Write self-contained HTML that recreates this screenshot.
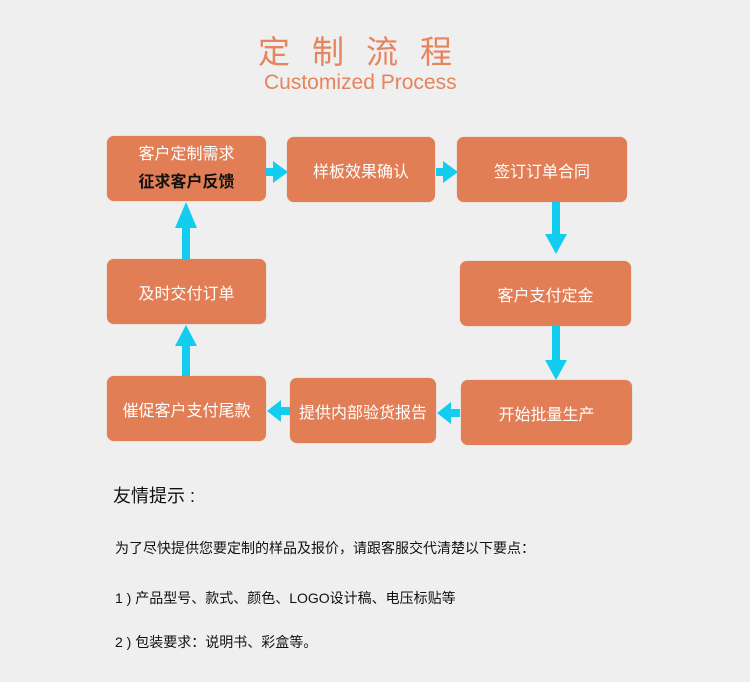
<!DOCTYPE html>
<html><head><meta charset="utf-8"><style>
body{margin:0;width:750px;height:682px;background:#efefef;position:relative;overflow:hidden;font-family:"Liberation Sans","Noto Sans CJK SC",sans-serif}
.t{position:absolute;white-space:nowrap}
.b{position:absolute;background:#e27e55;border-radius:7px;color:#fff;font-size:16px;display:flex;align-items:center;justify-content:center;flex-direction:column;box-shadow:0 0 1px #d8a08a}
</style></head><body>
<div class="t" style="left:258px;top:27px;font-size:32px;color:#e5845d;letter-spacing:22px">定制流程</div>
<div class="t" style="left:264px;top:71px;font-size:21px;color:#e5845d">Customized Process</div>

<div class="b" style="left:107px;top:136px;width:159px;height:65px;line-height:28px"><span>客户定制需求</span><span style="color:#111;font-weight:bold">征求客户反馈</span></div>
<div class="b" style="left:287px;top:137px;width:148px;height:65px">样板效果确认</div>
<div class="b" style="left:457px;top:137px;width:170px;height:65px">签订订单合同</div>
<div class="b" style="left:107px;top:259px;width:159px;height:65px">及时交付订单</div>
<div class="b" style="left:460px;top:261px;width:171px;height:65px">客户支付定金</div>
<div class="b" style="left:107px;top:376px;width:159px;height:65px">催促客户支付尾款</div>
<div class="b" style="left:290px;top:378px;width:146px;height:65px">提供内部验货报告</div>
<div class="b" style="left:461px;top:380px;width:171px;height:65px">开始批量生产</div>

<svg width="750" height="682" style="position:absolute;left:0;top:0" fill="#12cdf0">
<polygon points="266,168 273,168 273,161 288,172 273,183 273,176 266,176"/>
<polygon points="436,168 443,168 443,161 458,172 443,183 443,176 436,176"/>
<polygon points="552,202 560,202 560,234 567,234 556,254 545,234 552,234"/>
<polygon points="552,326 560,326 560,360 567,360 556,380 545,360 552,360"/>
<polygon points="182,259 190,259 190,228 197,228 186,202 175,228 182,228"/>
<polygon points="182,376 190,376 190,346 197,346 186,325 175,346 182,346"/>
<polygon points="460,409 451,409 451,402 437,413 451,424 451,417 460,417"/>
<polygon points="290,407 281,407 281,400 267,411 281,422 281,415 290,415"/>
</svg>

<div class="t" style="left:113px;top:482px;font-size:18px;color:#111">友情提示 :</div>
<div class="t" style="left:115px;top:538px;font-size:14px;color:#111">为了尽快提供您要定制的样品及报价，请跟客服交代清楚以下要点：</div>
<div class="t" style="left:115px;top:588px;font-size:14px;color:#111">1 ) 产品型号、款式、颜色、LOGO设计稿、电压标贴等</div>
<div class="t" style="left:115px;top:632px;font-size:14px;color:#111">2 ) 包装要求：说明书、彩盒等。</div>
</body></html>
